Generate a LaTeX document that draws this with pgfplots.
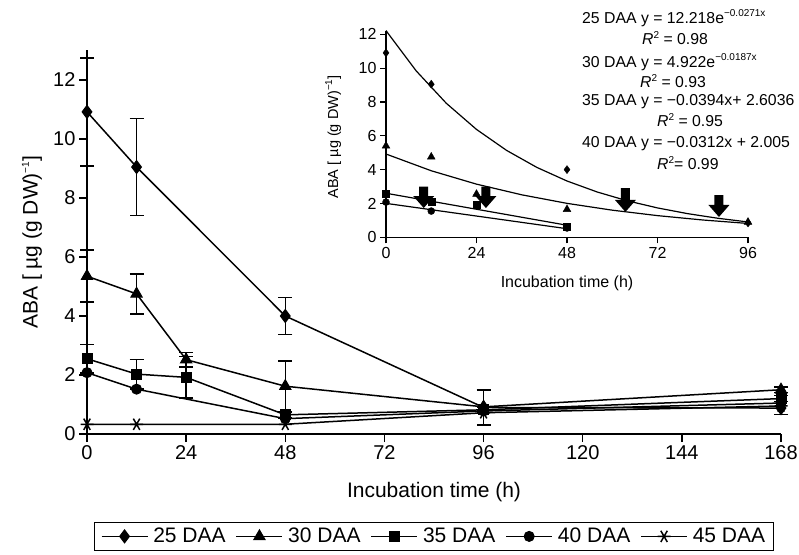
\documentclass[border=0pt]{standalone}
\usepackage{fontspec}
\setmainfont{Liberation Sans}
\usepackage{pgfplots}
\pgfplotsset{compat=1.18}
\newcommand{\sups}[1]{\raisebox{0.42em}{\fontsize{10}{12}\selectfont #1}}
\newcommand{\blockarrow}[3]{%
  \fill ([xshift=-4.5pt]axis cs:#1,#2) -- ([xshift=4.5pt]axis cs:#1,#2) --
  ([xshift=4.5pt,yshift=12pt]axis cs:#1,#3) -- ([xshift=10.5pt,yshift=12pt]axis cs:#1,#3) --
  (axis cs:#1,#3) -- ([xshift=-10.5pt,yshift=12pt]axis cs:#1,#3) --
  ([xshift=-4.5pt,yshift=12pt]axis cs:#1,#3) -- cycle;}
\pgfplotsset{
  ebar/.style={error bars/.cd, y dir=both, y explicit,
    error bar style={line width=1.5pt,solid},
    error mark options={rotate=90, line width=1.5pt, mark size=7pt, black}},
}
\begin{document}
\begin{tikzpicture}[x=1pt,y=1pt]
\path[use as bounding box] (0,0) rectangle (799,554);
% ---------------- main axis ----------------
\begin{axis}[
  at={(87pt,120pt)}, anchor=south west,
  scale only axis, width=694pt, height=383.5pt,
  xmin=0, xmax=168, ymin=0, ymax=13,
  axis lines=left, axis line style={-, line width=1.3pt},
  xtick={0,24,...,168}, ytick={0,2,...,12},
  tick align=outside, major tick length=8pt,
  tick style={line width=1.3pt, black},
  tick label style={font=\fontsize{20}{24}\selectfont},
  /pgf/number format/assume math mode=true,
  xlabel={Incubation time (h)},
  ylabel={ABA [ µg (g DW)\sups{−1}]},
  label style={font=\fontsize{21}{25}\selectfont},
  xlabel style={at={(axis description cs:0.5,-0.151)}, anchor=center},
  ylabel style={at={(axis description cs:-0.0793,0.5)}, anchor=center, rotate=0},
  clip=false,
  legend columns=5,
  legend style={at={(axis description cs:0.5,-0.267)}, anchor=center,
    draw=black, line width=1pt, font=\fontsize{21}{25}\selectfont,
    inner xsep=6pt, inner ysep=4pt,
    /tikz/every odd column/.append style={column sep=3pt},
    /tikz/every even column/.append style={column sep=8pt}},
  legend image code/.code={\draw[mark repeat=2,mark phase=2,#1] plot coordinates {(0pt,0pt) (23pt,0pt) (46pt,0pt)};},
]
\addplot[black, line width=1.5pt, mark=diamond*, mark size=6.5pt, mark options={fill=black,solid,line width=1pt}, ebar]
 coordinates {(0,10.92) +- (0,1.83) (12,9.05) +- (0,1.65) (48,4.0) +- (0,0.62) (96,0.9) +- (0,0.6) (168,0.88) +- (0,0.22)};
\addlegendentry{25 DAA}
\addplot[black, line width=1.5pt, mark=triangle*, mark size=6.5pt, mark options={fill=black,solid,line width=1pt}, ebar]
 coordinates {(0,5.35) +- (0,0.88) (12,4.75) +- (0,0.68) (24,2.52) +- (0,0.25) (48,1.62) +- (0,0.85) (96,0.92) +- (0,0) (168,1.5) +- (0,0.1)};
\addlegendentry{30 DAA}
\addplot[black, line width=1.5pt, mark=square*, mark size=5pt, mark options={fill=black,solid,line width=1pt}, ebar]
 coordinates {(0,2.55) +- (0,0.48) (12,2.03) +- (0,0.5) (24,1.92) +- (0,0.7) (48,0.65) +- (0,0.1) (96,0.82) +- (0,0) (168,1.2) +- (0,0.1)};
\addlegendentry{35 DAA}
\addplot[black, line width=1.5pt, mark=*, mark size=5pt, mark options={fill=black,solid,line width=1pt}]
 coordinates {(0,2.08) (12,1.52) (48,0.52) (96,0.78) (168,1.05)};
\addlegendentry{40 DAA}
\addplot[black, line width=1.5pt, mark=asterisk, mark size=6.5pt, mark options={rotate=90,solid,line width=1.5pt}]
 coordinates {(0,0.33) (12,0.33) (48,0.33) (96,0.72) (168,0.95)};
\addlegendentry{45 DAA}
\end{axis}
% ---------------- inset ----------------
\begin{axis}[
  at={(386pt,316.7pt)}, anchor=south west,
  scale only axis, width=362pt, height=206.4pt,
  xmin=0, xmax=96, ymin=0, ymax=12.2,
  axis lines=left, axis line style={-, line width=1.1pt},
  xtick={0,24,...,96}, ytick={0,2,...,12},
  tick align=outside, major tick length=6pt,
  tick style={line width=1.1pt, black},
  tick label style={font=\fontsize{16}{19}\selectfont},
  /pgf/number format/assume math mode=true,
  xlabel={Incubation time (h)},
  ylabel={ABA [ µg (g DW)\sups{−1}]},
  xlabel style={font=\fontsize{16}{19}\selectfont, at={(axis description cs:0.5,-0.221)}, anchor=center},
  ylabel style={font=\fontsize{14.5}{17}\selectfont, at={(axis description cs:-0.146,0.486)}, anchor=center},
  clip=false,
]
% fitted curves
\addplot[black, line width=1.2pt, no marks] coordinates {(0,12.218) (8,9.837) (16,7.920) (24,6.376) (32,5.133) (40,4.132) (48,3.327) (56,2.678) (64,2.156) (72,1.736) (80,1.398) (88,1.125) (96,0.906)};
\addplot[black, line width=1.2pt, no marks] coordinates {(0,4.922) (12,3.933) (24,3.142) (36,2.511) (48,2.006) (60,1.603) (72,1.281) (84,1.023) (96,0.818)};
\addplot[black, line width=1.2pt, no marks] coordinates {(0,2.6036) (48,0.7124)};
\addplot[black, line width=1.2pt, no marks] coordinates {(0,2.005) (48,0.5074)};
% data points
\addplot[black, only marks, mark=diamond*, mark size=4pt] coordinates {(0,10.9) (12,9.05) (48,4.0) (96,0.85)};
\addplot[black, only marks, mark=triangle*, mark size=4.5pt] coordinates {(0,5.4) (12,4.75) (24,2.55) (48,1.65) (96,0.9)};
\addplot[black, only marks, mark=square*, mark size=3.5pt] coordinates {(0,2.55) (12,2.1) (24,1.95) (48,0.62)};
\addplot[black, only marks, mark=*, mark size=3.5pt] coordinates {(0,2.08) (12,1.55) (48,0.55)};
\blockarrow{10}{3.0}{1.73}
\blockarrow{26.5}{3.0}{1.73}
\blockarrow{63.5}{2.9}{1.5}
\blockarrow{88.3}{2.5}{1.2}
\end{axis}
% equations
\begin{scope}[every node/.style={anchor=west, inner sep=0pt, font=\fontsize{15.8}{19}\selectfont}]
\node at (582,536) {25 DAA y = 12.218e\sups{−0.0271x}};
\node at (642,516) {\textit{R}\sups{2} = 0.98};
\node at (582,492) {30 DAA y = 4.922e\sups{−0.0187x}};
\node at (640,473) {\textit{R}\sups{2} = 0.93};
\node at (582,452) {35 DAA y = −0.0394x+ 2.6036};
\node at (657,434) {\textit{R}\sups{2} = 0.95};
\node at (582,410) {40 DAA y = −0.0312x + 2.005};
\node at (657,391) {\textit{R}\sups{2}= 0.99};
\end{scope}
\end{tikzpicture}
\end{document}
